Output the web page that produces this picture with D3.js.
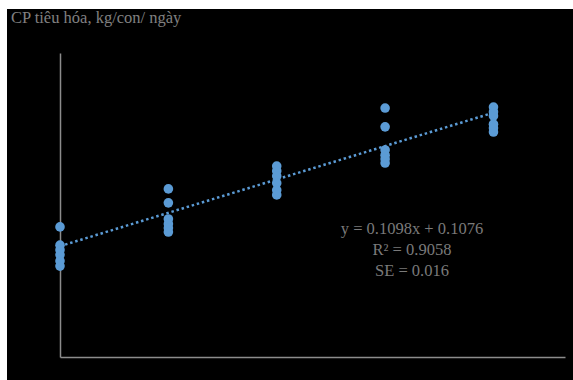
<!DOCTYPE html>
<html><head><meta charset="utf-8">
<script src="https://cdn.jsdelivr.net/npm/d3@7"></script>
<style>html,body{margin:0;padding:0;background:#fff;}svg{display:block;}</style>
</head><body>
<svg id="chart" width="573" height="380"></svg>
<script>
const titleText = "CP tiêu hóa, kg/con/ ngày";
const groupX = [2.34, 3.34, 4.34, 5.34, 6.34];
const group1 = [0.428, 0.368, 0.352, 0.336, 0.316, 0.299];
const group2 = [0.553, 0.507, 0.454, 0.4375, 0.424, 0.411];
const group3 = [0.628, 0.612, 0.595, 0.572, 0.549, 0.533];
const group4 = [0.819, 0.757, 0.681, 0.664, 0.651, 0.638];
const group5 = [0.822, 0.806, 0.793, 0.766, 0.753, 0.740];
const slope = 0.1098, intercept = 0.1076;
const eqLines = ["y = 0.1098x + 0.1076", "R² = 0.9058", "SE = 0.016"];

const groups = [group1, group2, group3, group4, group5];
const points = [];
groups.forEach((g, i) => g.forEach(v => points.push({x: groupX[i], y: v})));

const svg = d3.select("#chart");
svg.append("rect").attr("x", 7).attr("y", 9).attr("width", 566).attr("height", 371).attr("fill", "#000");

const x = d3.scaleLinear().domain([2.34, 7.0]).range([60, 565]);
const y = d3.scaleLinear().domain([0, 1]).range([357, 53]);

svg.append("text").attr("x", 11).attr("y", 23)
  .attr("font-family", "Liberation Serif, Times New Roman, serif")
  .attr("font-size", 16.5).attr("fill", "#808080")
  .text(titleText);

const axisX = d3.axisBottom(x).tickValues([]).tickSizeOuter(0);
const axisY = d3.axisLeft(y).tickValues([]).tickSizeOuter(0);
const gx = svg.append("g").attr("transform", `translate(0,${y(0)})`).call(axisX);
const gy = svg.append("g").attr("transform", `translate(${x(2.34)},0)`).call(axisY);
[gx, gy].forEach(g => g.select(".domain").attr("stroke", "#8c8c8c").attr("stroke-width", 1.5));

const xs = d3.extent(groupX);
const line = d3.line().x(d => x(d)).y(d => y(slope * d + intercept));
svg.append("path").datum(xs).attr("d", line)
  .attr("fill", "none").attr("stroke", "#5b9bd5").attr("stroke-width", 2.5)
  .attr("stroke-dasharray", "2.5,2.8");

svg.append("g").selectAll("circle").data(points).join("circle")
  .attr("cx", d => x(d.x)).attr("cy", d => y(d.y)).attr("r", 4.8)
  .attr("fill", "#5b9bd5");

svg.append("g").selectAll("text").data(eqLines).join("text")
  .attr("x", 412).attr("y", (d, i) => 234 + i * 21)
  .attr("text-anchor", "middle")
  .attr("font-family", "Liberation Serif, Times New Roman, serif")
  .attr("font-size", 16.5).attr("fill", "#7a7a7a")
  .text(d => d);
</script>
</body></html>
